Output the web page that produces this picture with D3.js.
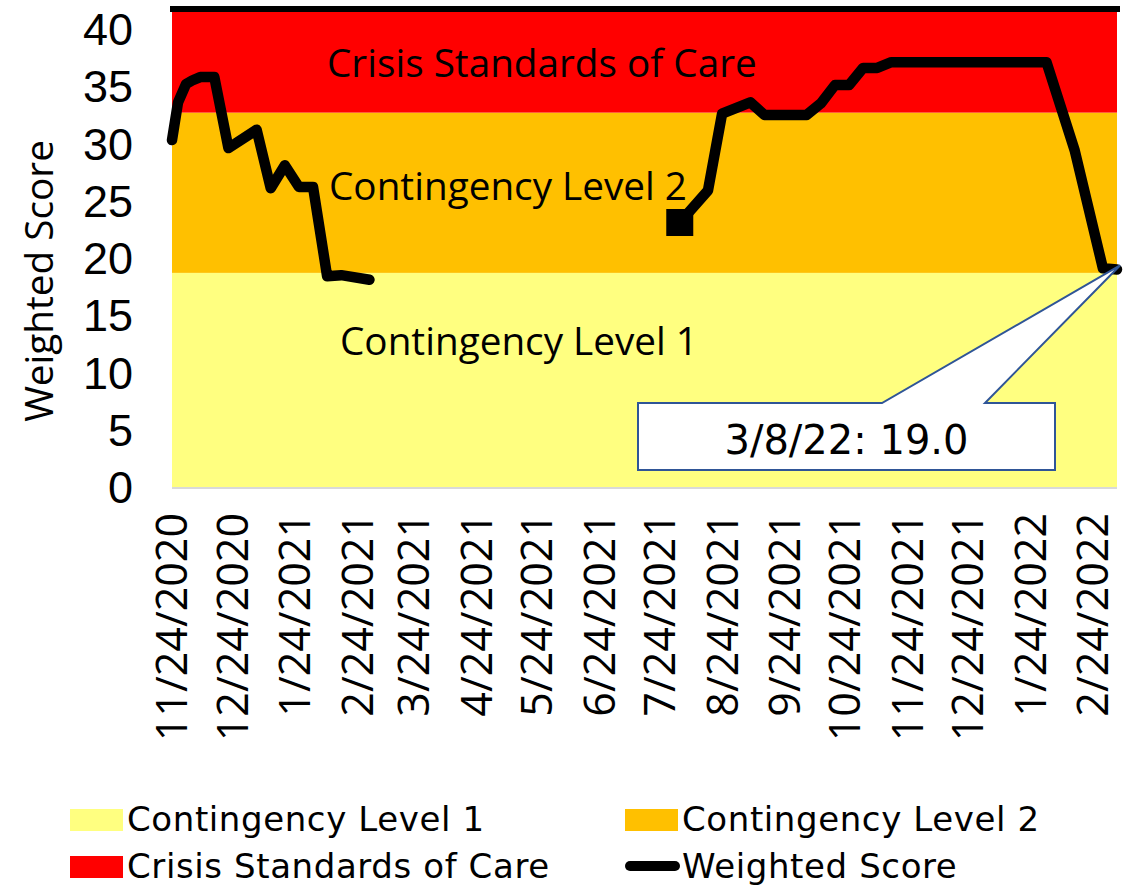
<!DOCTYPE html>
<html><head><meta charset="utf-8">
<script src="https://cdn.jsdelivr.net/npm/d3@7"></script>
<style>body{margin:0;background:#fff} svg{display:block}</style>
</head><body><svg id="c" width="1130" height="886"></svg>
<script>
// ---- data ----
const bandNames = ["Contingency Level 1", "Contingency Level 2", "Crisis Standards of Care"];
const bandColors = ["#FFFF80", "#FFC000", "#FF0000"];
const bandBounds = [0, 18.7, 32.7, 42];

const scoreDates = ["2020-11-24","2020-11-27","2020-12-01","2020-12-04","2020-12-08","2020-12-15","2020-12-22",
  "2021-01-05","2021-01-12","2021-01-19","2021-01-26","2021-02-02","2021-02-09","2021-02-16","2021-03-02","2021-03-09",
  "2021-08-03","2021-08-17","2021-08-24","2021-09-07","2021-09-14","2021-10-05","2021-10-12","2021-10-19","2021-10-26",
  "2021-11-02","2021-11-09","2021-11-16","2022-02-01","2022-02-15","2022-03-01","2022-03-08"];
const scoreValues = [30.3,33.6,35.2,35.5,35.8,35.8,29.6,
  31.2,26.1,28.1,26.2,26.2,18.4,18.5,18.1,null,
  23.1,25.9,32.6,33.6,32.5,32.5,33.5,35.1,35.1,
  36.6,36.6,37.1,37.1,29.4,19.1,19.0];
const markerIndex = 16; // isolated marker after the gap

const xTickLabels = ["11/24/2020","12/24/2020","1/24/2021","2/24/2021","3/24/2021","4/24/2021","5/24/2021","6/24/2021",
  "7/24/2021","8/24/2021","9/24/2021","10/24/2021","11/24/2021","12/24/2021","1/24/2022","2/24/2022"];
const yTicks = [0,5,10,15,20,25,30,35,40];
const xDomain = ["2020-11-24","2022-03-08"];
const calloutText = "3/8/22: 19.0";
const yTitle = "Weighted Score";
const legendItems = [
  {name:"Contingency Level 1", type:"rect", color:"#FFFF80"},
  {name:"Contingency Level 2", type:"rect", color:"#FFC000"},
  {name:"Crisis Standards of Care", type:"rect", color:"#FF0000"},
  {name:"Weighted Score", type:"line", color:"#000000"}
];

// ---- layout ----
const parseISO = d3.utcParse("%Y-%m-%d");
const parseMDY = d3.utcParse("%m/%d/%Y");
const svg = d3.select("#c");
const x = d3.scaleUtc().domain(xDomain.map(parseISO)).range([172, 1117]);
const y = d3.scaleLinear().domain([0, 42]).range([487, 487 - 42 * 11.45]);
const OS = "'Open Sans', sans-serif";
const DJ = "'DejaVu Sans', sans-serif";
const LS = "'Liberation Sans', Arial, sans-serif";

// bands
svg.append("g").selectAll("rect").data(bandNames).join("rect")
  .attr("x", x.range()[0]).attr("width", x.range()[1] - x.range()[0])
  .attr("y", (d, i) => y(bandBounds[i + 1]))
  .attr("height", (d, i) => y(bandBounds[i]) - y(bandBounds[i + 1]))
  .attr("fill", (d, i) => bandColors[i]);

// top black border
svg.append("line").attr("x1", 170).attr("x2", 1120)
  .attr("y1", y(42) + 3).attr("y2", y(42) + 3)
  .attr("stroke", "#000").attr("stroke-width", 6);

// x axis line
svg.append("line").attr("x1", x.range()[0]).attr("x2", x.range()[1])
  .attr("y1", y(0) + 1).attr("y2", y(0) + 1)
  .attr("stroke", "#D9D9D9").attr("stroke-width", 2);

// in-plot band labels
const bandLabelPos = [{x:340, y:355}, {x:329, y:200}, {x:327, y:77}];
svg.append("g").selectAll("text").data(bandNames).join("text")
  .attr("x", (d, i) => bandLabelPos[i].x).attr("y", (d, i) => bandLabelPos[i].y)
  .attr("font-family", OS).attr("font-size", 38.7).attr("fill", "#000")
  .text(d => d);

// weighted score line
const pts = scoreDates.map((d, i) => ({date: parseISO(d), v: scoreValues[i]}));
const line = d3.line().defined(p => p.v != null).x(p => x(p.date)).y(p => y(p.v));
svg.append("path").attr("d", line(pts)).attr("fill", "none")
  .attr("stroke", "#000").attr("stroke-width", 10.5)
  .attr("stroke-linejoin", "round").attr("stroke-linecap", "round");

// square marker
const mp = pts[markerIndex];
svg.append("rect").attr("x", x(mp.date) - 13.5).attr("y", y(mp.v) - 13.5)
  .attr("width", 27).attr("height", 27).attr("fill", "#000");

// callout
const last = pts[pts.length - 1];
const tipX = x(last.date) + 3, tipY = y(last.v) - 4;
const bx0 = 638, bx1 = 1055, by0 = 403, by1 = 470;
svg.append("path")
  .attr("d", `M${bx0},${by0}L882,${by0}L${tipX},${tipY}L985,${by0}L${bx1},${by0}L${bx1},${by1}L${bx0},${by1}Z`)
  .attr("fill", "#fff").attr("stroke", "#2F5597").attr("stroke-width", 2);
svg.append("text").attr("x", (bx0 + bx1) / 2).attr("y", 454)
  .attr("text-anchor", "middle").attr("font-family", DJ).attr("font-size", 40)
  .attr("fill", "#000").text(calloutText);

// y tick labels
svg.append("g").selectAll("text").data(yTicks).join("text")
  .attr("x", 133).attr("y", d => y(d)).attr("dy", "0.36em")
  .attr("text-anchor", "end").attr("font-family", LS).attr("font-size", 45)
  .attr("fill", "#000").text(d => d);

// y title
svg.append("text").attr("transform", "translate(53,281) rotate(-90)")
  .attr("text-anchor", "middle").attr("font-family", OS).attr("font-size", 38.7)
  .attr("fill", "#000").text(yTitle);

// x tick labels
svg.append("g").selectAll("text").data(xTickLabels).join("text")
  .attr("transform", d => `translate(${x(parseMDY(d))},513) rotate(-90)`)
  .attr("dy", "0.36em").attr("text-anchor", "end")
  .attr("font-family", OS).attr("font-size", 43).attr("fill", "#000")
  .text(d => d);

// legend
const legPos = [{x:70, y:831}, {x:625, y:831}, {x:70, y:878}, {x:625, y:878}];
const lg = svg.append("g").selectAll("g").data(legendItems).join("g")
  .attr("transform", (d, i) => `translate(${legPos[i].x},${legPos[i].y})`);
lg.filter(d => d.type === "rect").append("rect")
  .attr("x", 0).attr("y", -22).attr("width", 53).attr("height", 22).attr("fill", d => d.color);
lg.filter(d => d.type === "line").append("line")
  .attr("x1", 5).attr("x2", 50).attr("y1", -12).attr("y2", -12)
  .attr("stroke", d => d.color).attr("stroke-width", 10).attr("stroke-linecap", "round");
lg.append("text").attr("x", 57).attr("y", 0)
  .attr("font-family", DJ).attr("font-size", 34).attr("letter-spacing", 0.6)
  .attr("fill", "#000").text(d => d.name);
</script></body></html>
